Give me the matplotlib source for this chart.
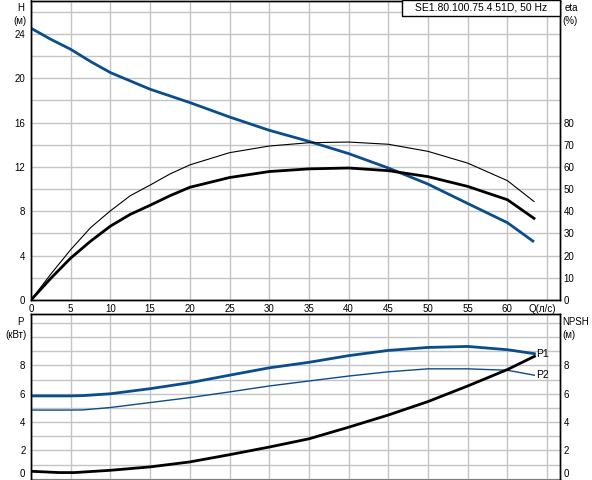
import matplotlib
matplotlib.use("Agg")
import matplotlib.pyplot as plt
from matplotlib.patches import Rectangle

plt.rcParams['font.family'] = ['Liberation Sans', 'DejaVu Sans']
plt.rcParams['font.size'] = 7

BLUE = '#0a4d8c'
GRID = '#c4c4c4'

# ---- data ----
q_h = [0, 2.5, 5, 7.5, 10, 15, 20, 25, 30, 35, 40, 45, 50, 55, 60, 63.35]
head = [24.5, 23.5, 22.6, 21.5, 20.5, 19.0, 17.8, 16.5, 15.3, 14.3, 13.2, 11.9, 10.45, 8.7, 6.97, 5.24]

q_eta = [0, 2.5, 5, 7.5, 10, 12.5, 15, 17.5, 20, 25, 30, 35, 40, 45, 50, 55, 60, 63.35]
eta_thin = [0, 11.7, 22.7, 32.6, 40.2, 47.0, 51.8, 56.8, 60.9, 66.4, 69.4, 70.9, 71.2, 70.2, 67.0, 61.7, 53.8, 44.4]
eta_thick = [0, 9.8, 18.9, 26.5, 33.3, 38.6, 42.7, 47.0, 50.8, 55.2, 57.9, 59.1, 59.5, 58.3, 55.6, 51.2, 45.2, 36.8]

q_p = [0, 5, 6.5, 10, 15, 20, 25, 30, 35, 40, 45, 50, 55, 60, 63.4]
p1 = [5.85, 5.85, 5.87, 6.0, 6.36, 6.78, 7.31, 7.83, 8.22, 8.69, 9.06, 9.27, 9.34, 9.11, 8.83]
p2 = [4.85, 4.85, 4.86, 5.03, 5.38, 5.73, 6.13, 6.55, 6.9, 7.25, 7.55, 7.76, 7.76, 7.66, 7.31]

q_npsh = [0, 3.5, 5.5, 10, 15, 20, 25, 30, 35, 40, 45, 50, 55, 60, 63.4]
npsh = [0.53, 0.44, 0.44, 0.6, 0.84, 1.19, 1.7, 2.24, 2.82, 3.64, 4.5, 5.45, 6.55, 7.71, 8.64]

x_ticks = [0, 5, 10, 15, 20, 25, 30, 35, 40, 45, 50, 55, 60, 65]
x_labels = ['0', '5', '10', '15', '20', '25', '30', '35', '40', '45', '50', '55', '60', '']
h_ticks = list(range(0, 27, 2))
h_labels = [str(v) if v % 4 == 0 else '' for v in h_ticks]
eta_ticks = list(range(0, 90, 10))
p_ticks = list(range(0, 12))
p_labels = [str(v) if (v % 2 == 0 and v <= 8) else '' for v in p_ticks]
title = 'SE1.80.100.75.4.51D, 50 Hz'

W, H = 592, 480
fig = plt.figure(figsize=(W / 100, H / 100), dpi=100)

def fx(px):
    return px / W

def fy(py):
    return 1 - py / H

L, R = 31, 559.5
ax1 = fig.add_axes([fx(L), fy(300), fx(R - L), (300 - 0.5) / H])
ax2 = fig.add_axes([fx(L), fy(479.5), fx(R - L), (479.5 - 314) / H])

XMAX = (R - L) / 7.94

for ax in (ax1, ax2):
    ax.set_xlim(0, XMAX)
    ax.set_xticks(x_ticks)
    ax.grid(True, color=GRID, lw=1)
    ax.set_axisbelow(True)
    ax.tick_params(length=0, labelsize=7, colors='black')
    for s in ax.spines.values():
        s.set_color('black')
        s.set_linewidth(1)

# top axes
ax1.set_ylim(0, 27)
ax1.set_yticks(h_ticks)
ax1.set_yticklabels(h_labels)
ax1.set_xticklabels(x_labels)
ax1.tick_params(axis='x', pad=3)
ax1.tick_params(axis='y', pad=4)

ax1r = ax1.twinx()
ax1r.set_ylim(0, 27 * 5)
ax1r.set_yticks(eta_ticks)
ax1r.tick_params(length=0, labelsize=7, pad=3)
for s in ax1r.spines.values():
    s.set_linewidth(1)

ax1.plot(q_h, head, color=BLUE, lw=2.0, solid_capstyle='butt', zorder=5)
ax1r.plot(q_eta, eta_thin, color='black', lw=0.8, zorder=4)
ax1r.plot(q_eta, eta_thick, color='black', lw=2.0, zorder=4)

# bottom axes
ax2.set_ylim(-0.05, 11.63)
ax2.set_yticks(p_ticks)
ax2.set_yticklabels(p_labels)
ax2.set_xticklabels([''] * len(x_ticks))
ax2.tick_params(axis='y', pad=4)

ax2r = ax2.twinx()
ax2r.set_ylim(-0.05, 11.63)
ax2r.set_yticks(p_ticks)
ax2r.set_yticklabels(p_labels)
ax2r.tick_params(length=0, labelsize=7, pad=3)
for s in ax2r.spines.values():
    s.set_linewidth(1)

for axx in (ax2, ax2r):
    for t in axx.get_yticklabels():
        if t.get_text() == '0':
            t.set_va('bottom')

ax2.plot(q_p, p1, color=BLUE, lw=2.0, zorder=5)
ax2.plot(q_p, p2, color=BLUE, lw=1.0, zorder=5)
ax2.plot(q_npsh, npsh, color='black', lw=2.0, zorder=5)
ax2.annotate('P1', (q_p[-1], p1[-1]), xytext=(1.5, 0), textcoords='offset points',
             va='center', ha='left', fontsize=7.5)
ax2.annotate('P2', (q_p[-1], p2[-1]), xytext=(1.5, 0), textcoords='offset points',
             va='center', ha='left', fontsize=7.5)

# axis captions
fig.text(fx(21), fy(8), 'H', ha='center', va='center', fontsize=7)
fig.text(fx(20), fy(21), '(м)', ha='center', va='center', fontsize=7)
fig.text(fx(571), fy(8), 'eta', ha='center', va='center', fontsize=7)
fig.text(fx(570), fy(21), '(%)', ha='center', va='center', fontsize=7)
fig.text(fx(542), fy(309), 'Q(л/с)', ha='center', va='center', fontsize=7)
fig.text(fx(20), fy(322), 'P', ha='center', va='center', fontsize=7)
fig.text(fx(16), fy(335), '(кВт)', ha='center', va='center', fontsize=7)
fig.text(fx(576), fy(322), 'NPSH', ha='center', va='center', fontsize=7)
fig.text(fx(569), fy(335), '(м)', ha='center', va='center', fontsize=7)

# title box
fig.patches.append(Rectangle((fx(402), fy(15.5)), fx(157.5), 15.5 / H,
                             transform=fig.transFigure, facecolor='white',
                             edgecolor='black', lw=1, zorder=10))
fig.text(fx(481), fy(8), title, ha='center', va='center', fontsize=7.5, zorder=11)

fig.savefig('out.png', dpi=100)
